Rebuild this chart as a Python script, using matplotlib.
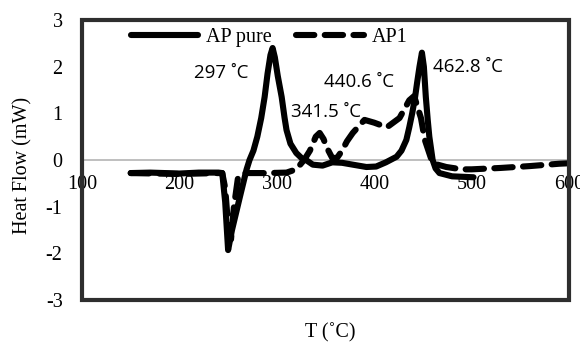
import matplotlib
matplotlib.use("Agg")
import matplotlib.pyplot as plt
from matplotlib.patches import Rectangle

# ---- data ----
t_pure = [150, 170, 200, 220, 240, 244, 247, 250, 254, 262, 269, 272, 276, 280, 284, 287.5, 290.5, 293.5,
          295.7, 298, 301, 305, 308, 310, 314, 320, 326, 330, 337, 347, 357, 367, 378, 392, 402, 412,
          423, 428, 433, 436, 439, 442, 444, 446.5, 449, 451, 453, 455, 456.6, 460, 463, 467, 480, 502]
hf_pure = [-0.28, -0.27, -0.29, -0.27, -0.27, -0.28, -0.9, -1.93, -1.5, -0.8, -0.2, 0.0, 0.2, 0.5, 0.9, 1.35, 1.85, 2.25,
           2.4, 2.2, 1.8, 1.35, 0.9, 0.64, 0.35, 0.15, 0.03, 0.0, -0.1, -0.12, -0.05, -0.06, -0.1, -0.15, -0.14, -0.05,
           0.07, 0.2, 0.43, 0.7, 1.0, 1.35, 1.65, 2.0, 2.3, 2.0, 1.35, 0.85, 0.5, 0.0, -0.18, -0.28, -0.35, -0.37]

t_ap1 = [150, 200, 240, 244, 247, 250, 253, 256, 260, 265, 290, 310, 320, 328, 334, 340, 344, 348,
         351, 357, 362, 367, 372, 378, 390, 400, 413, 426, 436, 441, 448, 452, 460, 474, 490, 500,
         530, 560, 590, 600]
hf_ap1 = [-0.28, -0.3, -0.28, -0.28, -0.6, -1.4, -1.7, -1.0, -0.4, -0.28, -0.28, -0.27, -0.2, 0.0, 0.2, 0.5, 0.58, 0.45,
          0.28, 0.04, 0.05, 0.2, 0.4, 0.58, 0.86, 0.8, 0.7, 0.9, 1.28, 1.37, 0.9, 0.43, -0.07, -0.15, -0.2, -0.2,
          -0.17, -0.13, -0.08, -0.07]

series_names = ["AP pure", "AP1"]
x_ticks = [100, 200, 300, 400, 500, 600]
y_ticks = [-3, -2, -1, 0, 1, 2, 3]
peak_labels = ["297 \u02daC", "341.5 \u02daC", "440.6 \u02daC", "462.8 \u02daC"]
peak_label_pos = [(243, 1.86), (351, 1.03), (384, 1.67), (496, 1.99)]

serif = ["Liberation Serif", "DejaVu Serif"]
sans = ["Open Sans", "DejaVu Sans"]
fs = 14.5

fig = plt.figure(figsize=(5.8, 3.42), dpi=100)
ax = fig.add_axes([82 / 580, 1 - 300 / 342, (569 - 82) / 580, 280 / 342])

ax.set_xlim(100, 600)
ax.set_ylim(-3, 3)

lw = 4.4
ax.plot(t_pure, hf_pure, color="black", lw=lw, solid_capstyle="round",
        solid_joinstyle="round", label=series_names[0], zorder=3)
ax.plot(t_ap1, hf_ap1, color="black", lw=lw, linestyle=(0, (3.0, 1.7)),
        dash_capstyle="round", dash_joinstyle="round", label=series_names[1], zorder=3)

# axes styling
for s in ["top", "right"]:
    ax.spines[s].set_visible(False)
ax.spines["bottom"].set_position(("data", 0))
ax.spines["bottom"].set_color("#b4b4b4")
ax.spines["bottom"].set_linewidth(1.2)
ax.spines["left"].set_color("#9a9a9a")
ax.spines["left"].set_linewidth(1.0)

ax.set_xticks(x_ticks)
ax.set_xticklabels([str(v) for v in x_ticks], family=serif, fontsize=fs)
ax.set_yticks(y_ticks)
ax.set_yticklabels([str(v) for v in y_ticks], family=serif, fontsize=fs)
ax.tick_params(axis="x", length=0, pad=10.5)
ax.tick_params(axis="y", length=0, pad=14)

# frame drawn on top (like Excel plot-area border)
frame = Rectangle((0, 0), 1, 1, transform=ax.transAxes, fill=False,
                  edgecolor="#2e2e2e", lw=3.0, zorder=10, clip_on=False)
ax.add_patch(frame)

for txt, (tx, ty) in zip(peak_labels, peak_label_pos):
    ax.text(tx, ty, txt, family=sans, fontsize=13.5, ha="center", va="center", zorder=4)

leg = ax.legend(loc="center", bbox_to_anchor=(0.384, 0.939), ncol=2, frameon=False,
                prop={"family": serif, "size": fs}, handlelength=3.35,
                handletextpad=0.4, columnspacing=1.2, borderpad=0, borderaxespad=0)

fig.text(23 / 580, 1 - 165 / 342, "Heat Flow (mW)", family=serif, fontsize=fs,
         rotation=90, ha="center", va="center")
fig.text(330 / 580, 1 - 333 / 342, "T (\u02daC)", family=serif, fontsize=fs,
         ha="center", va="center")

fig.savefig("out.png", dpi=100)
